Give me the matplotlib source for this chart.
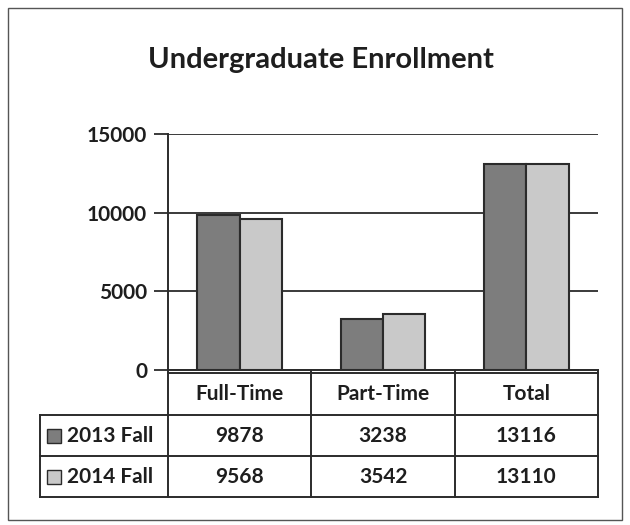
import numpy as np
import matplotlib
matplotlib.use("Agg")
import matplotlib.pyplot as plt
from matplotlib.patches import Rectangle
from matplotlib.lines import Line2D
from matplotlib.transforms import blended_transform_factory

categories = ["Full-Time", "Part-Time", "Total"]
series = ["2013 Fall", "2014 Fall"]
fall_2013 = [9878, 3238, 13116]
fall_2014 = [9568, 3542, 13110]
yticks = [0, 5000, 10000, 15000]

plt.rcParams['font.family'] = ['Lato', 'DejaVu Sans']
plt.rcParams['font.weight'] = 'bold'

dark = "#7d7d7d"
light = "#c9c9c9"
edge = "#2b2b2b"
txt = "#1e1e1e"
fs = 15

fig = plt.figure(figsize=(6.3, 5.25), dpi=100)
W, H = 630, 525
# axes: x 168..598 px, y 134..370 px
ax = fig.add_axes([168 / W, 1 - 370 / H, 430 / W, 236 / H])

x = np.arange(len(categories))
bw = 0.295
ax.bar(x - bw / 2, fall_2013, bw, color=dark, edgecolor=edge, linewidth=1.5, zorder=3)
ax.bar(x + bw / 2, fall_2014, bw, color=light, edgecolor=edge, linewidth=1.5, zorder=3)

ax.set_xlim(-0.5, len(categories) - 0.5)
ax.set_ylim(0, 15000)
ax.set_yticks(yticks)
ax.set_yticklabels([str(v) for v in yticks], fontsize=fs, fontweight='bold', color=txt)
ax.tick_params(axis='y', direction='out', length=10, width=1.3, color=edge, pad=5)
ax.set_xticks([])
ax.yaxis.grid(True, color=edge, linewidth=1.3, zorder=0)
for s in ['top', 'right']:
    ax.spines[s].set_visible(False)
for s in ['left', 'bottom']:
    ax.spines[s].set_linewidth(1.4)
    ax.spines[s].set_color(edge)

# data table below the axes
tr = blended_transform_factory(ax.transData, ax.transAxes)
ah = 236.0
def fy(py):
    return -(py - 370) / ah

lw = 1.4
left_x = -0.5 - 128 / 143.0
right_x = len(categories) - 0.5
row_edges = [373, 415, 456, 497]
def hline(x0, x1, py):
    ax.add_line(Line2D([x0, x1], [fy(py), fy(py)], transform=tr, color=edge, lw=lw, clip_on=False))
def vline(xx, p0, p1):
    ax.add_line(Line2D([xx, xx], [fy(p0), fy(p1)], transform=tr, color=edge, lw=lw, clip_on=False))

hline(-0.5, right_x, row_edges[0])
hline(left_x, right_x, row_edges[1])
hline(left_x, right_x, row_edges[2])
hline(left_x, right_x, row_edges[3])
for b in np.arange(-0.5, len(categories), 1.0):
    vline(b, 370, row_edges[3])
vline(left_x, row_edges[1], row_edges[3])

for i, c in enumerate(categories):
    ax.text(i, fy(394), c, transform=tr, ha='center', va='center', fontsize=fs, fontweight='bold', color=txt)
for r, (name, vals, col) in enumerate(zip(series, [fall_2013, fall_2014], [dark, light])):
    yc = fy((row_edges[r + 1] + row_edges[r + 2]) / 2)
    for i, v in enumerate(vals):
        ax.text(i, yc, str(v), transform=tr, ha='center', va='center', fontsize=fs, fontweight='bold', color=txt)
    kx = left_x + 7 / 143.0
    ax.add_patch(Rectangle((kx, yc - 7 / ah), 14 / 143.0, 14 / ah, transform=tr, facecolor=col,
                           edgecolor=edge, lw=1.0, clip_on=False))
    ax.text(kx + 20 / 143.0, yc, name, transform=tr, ha='left', va='center', fontsize=fs, fontweight='bold', color=txt)

fig.text(321 / W, 1 - 60 / H, "Undergraduate Enrollment", ha='center', va='center', fontsize=21,
         fontweight='bold', color=txt)

# outer frame
fig.add_artist(Rectangle((8 / W, 5 / H), 614 / W, 512 / H, transform=fig.transFigure, fill=False,
                         edgecolor="#555", lw=1.0))

fig.savefig("out.png", dpi=100)
